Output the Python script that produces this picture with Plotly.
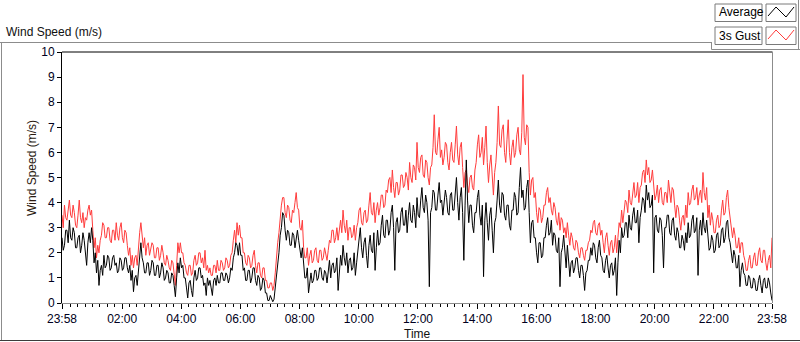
import plotly.graph_objects as go
from datetime import datetime, timedelta

# Wind speed (m/s), read every 2.5 minutes from 23:58 to 23:58 next day
average = [
    2.6, 2.1, 2.3, 2.9, 2.9, 2.4, 3.3, 2.6, 2.5, 3.0, 2.8, 2.2, 2.2, 2.6, 2.7, 2.0, 2.3, 2.8, 2.5, 2.1, 1.5, 2.4, 2.8, 2.4,
    3.0, 2.5, 1.6, 2.0, 1.2, 1.7, 0.7, 1.3, 1.5, 1.1, 1.9, 1.4, 1.5, 1.9, 1.8, 1.3, 1.4, 1.8, 1.9, 1.5, 1.6, 1.2, 1.3, 1.8,
    1.7, 1.3, 1.4, 1.8, 1.8, 1.4, 1.2, 1.5, 0.9, 1.3, 0.45, 1.0, 1.1, 0.7, 1.3, 1.7, 2.4, 1.8, 1.6, 1.2, 1.2, 1.6, 1.6, 1.1,
    1.3, 1.7, 1.6, 1.1, 1.1, 1.5, 1.5, 1.0, 1.2, 1.6, 1.4, 0.9, 1.0, 1.3, 1.2, 0.8, 0.8, 1.2, 1.1, 0.7, 0.25, 1.0, 1.6, 1.2,
    1.8, 1.4, 1.5, 1.0, 1.0, 0.6, 0.2, 0.8, 0.9, 0.5, 0.25, 1.0, 1.3, 0.9, 1.0, 1.4, 1.4, 1.0, 1.1, 0.7, 0.8, 0.3, 1.0, 0.7,
    0.9, 0.6, 0.3, 0.9, 1.0, 0.7, 1.1, 0.8, 0.8, 1.2, 1.2, 0.9, 0.9, 1.2, 1.1, 0.8, 1.0, 1.4, 1.3, 1.8, 2.0, 2.4, 2.3, 1.9,
    2.4, 1.9, 1.9, 1.3, 1.4, 0.9, 0.9, 1.3, 1.3, 0.8, 1.0, 1.4, 1.4, 0.9, 0.7, 1.1, 1.0, 0.5, 0.6, 1.0, 0.9, 0.4, 0.4, 0.1,
    0.1, 0.3, 0.2, 0.05, 0.15, 0.6, 1.2, 1.6, 2.0, 2.7, 3.0, 3.6, 3.5, 2.9, 2.5, 2.9, 2.8, 2.3, 2.3, 2.8, 2.7, 2.2, 2.6, 2.9,
    2.5, 2.0, 1.8, 2.2, 1.4, 1.0, 1.0, 1.4, 0.4, 0.9, 1.2, 0.8, 0.9, 1.3, 1.3, 0.9, 1.0, 1.4, 1.4, 1.0, 0.9, 1.3, 1.2, 0.8,
    1.3, 1.7, 1.0, 1.5, 1.6, 1.2, 1.3, 1.8, 0.5, 1.4, 1.9, 1.5, 2.3, 1.8, 1.5, 2.0, 1.2, 1.7, 1.8, 1.3, 1.4, 2.0, 1.1, 1.6,
    2.0, 2.6, 3.0, 2.2, 1.8, 2.4, 2.6, 1.9, 1.4, 2.3, 2.7, 2.1, 2.0, 2.8, 1.3, 2.2, 2.9, 2.3, 2.4, 3.1, 3.5, 2.7, 2.6, 3.3,
    3.3, 2.7, 2.9, 3.6, 3.9, 3.0, 1.3, 3.2, 3.4, 2.8, 2.9, 3.6, 3.8, 3.1, 3.1, 3.7, 2.8, 3.5, 4.0, 3.3, 3.2, 3.9, 3.6, 3.0,
    4.2, 3.5, 3.4, 4.1, 4.6, 3.8, 3.6, 4.3, 4.0, 3.3, 0.65, 3.6, 3.8, 4.5, 4.4, 3.7, 3.7, 4.3, 4.8, 4.0, 4.1, 3.5, 3.9, 4.5,
    4.2, 3.6, 3.5, 4.3, 4.4, 3.7, 3.7, 4.5, 5.0, 4.0, 3.3, 4.2, 4.6, 3.6, 1.7, 3.9, 5.7, 4.1, 3.2, 3.9, 3.9, 3.1, 2.8, 3.6,
    3.6, 4.2, 4.5, 3.5, 3.1, 3.9, 1.05, 3.3, 4.0, 3.2, 2.5, 3.5, 3.8, 2.9, 2.0, 3.2, 3.4, 4.1, 4.9, 3.9, 3.6, 4.4, 4.3, 3.5,
    3.3, 3.9, 3.9, 3.1, 2.9, 3.7, 3.7, 4.4, 4.2, 3.5, 3.6, 4.6, 5.4, 4.2, 4.5, 3.7, 3.8, 4.6, 4.9, 3.6, 2.4, 3.2, 3.3, 2.6,
    2.6, 2.0, 1.6, 2.4, 2.4, 1.8, 1.9, 2.6, 2.6, 3.1, 3.4, 2.7, 2.8, 3.3, 2.3, 2.8, 2.7, 2.1, 2.0, 2.6, 0.65, 2.0, 2.2, 2.7,
    1.9, 1.4, 2.3, 1.7, 1.05, 1.6, 1.7, 1.2, 1.4, 1.8, 1.8, 1.3, 1.0, 1.5, 1.5, 1.1, 0.5, 1.2, 1.3, 1.7, 1.7, 2.2, 1.9, 2.4,
    2.3, 1.8, 1.6, 2.2, 2.5, 1.9, 1.8, 1.3, 1.2, 1.7, 1.9, 1.4, 1.0, 1.5, 1.6, 1.1, 1.3, 1.8, 0.3, 1.6, 2.5, 2.0, 3.0, 2.6,
    2.7, 3.2, 3.2, 2.6, 3.5, 3.0, 2.9, 3.5, 3.8, 3.2, 3.2, 3.7, 2.4, 3.4, 3.7, 4.2, 4.1, 3.6, 4.7, 4.1, 4.4, 3.8, 3.9, 4.3,
    1.2, 3.4, 3.5, 2.9, 2.8, 3.4, 3.3, 2.7, 1.4, 3.0, 3.0, 3.5, 3.5, 2.8, 2.7, 3.3, 3.4, 2.7, 2.5, 3.0, 2.8, 2.2, 2.2, 2.7,
    2.5, 2.1, 2.8, 2.4, 3.2, 2.6, 2.7, 3.3, 3.5, 2.8, 2.9, 3.4, 1.1, 2.9, 3.3, 2.7, 3.6, 3.0, 2.8, 3.3, 2.6, 2.1, 2.2, 2.7,
    2.5, 2.0, 2.1, 2.7, 2.8, 2.2, 2.3, 2.9, 3.0, 2.4, 2.6, 3.2, 3.3, 2.6, 2.4, 2.0, 1.6, 2.1, 1.9, 1.4, 1.4, 1.9, 0.65, 1.3,
    1.6, 1.2, 1.1, 0.7, 0.7, 1.1, 1.0, 0.6, 0.6, 1.0, 0.9, 0.5, 0.5, 0.9, 1.1, 0.7, 0.4, 0.9, 1.0, 0.6, 0.6, 1.0, 0.8, 0.4,
    0.1,
]

gust = [
    3.5, 3.0, 3.9, 3.4, 3.3, 3.7, 4.1, 3.5, 3.4, 3.9, 3.6, 3.1, 3.0, 3.5, 4.1, 3.4, 3.2, 3.6, 3.0, 3.4, 3.3, 3.7, 3.9, 3.5,
    3.7, 2.9, 2.2, 2.6, 1.8, 2.3, 2.0, 2.5, 2.7, 3.2, 3.1, 2.6, 2.6, 3.0, 3.0, 2.5, 2.4, 2.9, 2.9, 2.5, 3.2, 2.7, 2.5, 3.0,
    3.2, 2.6, 2.4, 2.9, 2.8, 2.3, 1.9, 2.2, 1.5, 1.9, 1.4, 1.8, 1.9, 1.5, 2.3, 2.8, 3.2, 2.6, 2.2, 2.6, 1.9, 2.3, 2.4, 1.9,
    2.1, 2.4, 2.3, 1.8, 1.8, 2.2, 2.2, 1.7, 1.9, 2.3, 2.0, 1.6, 1.5, 1.9, 1.7, 1.4, 1.3, 1.7, 1.6, 1.2, 0.7, 1.5, 2.4, 2.0,
    2.4, 2.0, 2.0, 1.6, 1.5, 1.2, 1.1, 1.5, 1.5, 1.1, 1.2, 1.7, 1.9, 1.5, 1.6, 2.0, 2.0, 1.6, 1.8, 1.4, 2.1, 1.3, 1.5, 1.2,
    1.4, 1.1, 1.1, 1.5, 1.5, 1.2, 1.7, 1.3, 1.3, 1.7, 1.6, 1.3, 1.4, 1.8, 1.7, 1.4, 1.5, 1.9, 2.0, 2.5, 2.9, 2.4, 3.2, 2.7,
    3.1, 2.6, 2.6, 2.0, 2.0, 1.6, 1.5, 1.9, 1.8, 1.4, 1.5, 1.9, 2.1, 1.5, 1.2, 1.6, 1.6, 1.1, 1.0, 1.4, 1.4, 0.9, 0.9, 0.6,
    0.6, 0.8, 0.8, 0.5, 0.7, 1.2, 1.9, 2.4, 2.8, 3.5, 3.9, 4.2, 4.2, 3.6, 3.4, 3.9, 3.8, 3.3, 3.2, 3.7, 3.6, 4.0, 4.4, 3.8,
    3.7, 3.0, 2.9, 3.3, 2.2, 1.8, 1.8, 2.2, 1.5, 1.9, 2.1, 1.6, 1.7, 2.1, 2.2, 1.7, 1.6, 2.1, 2.1, 1.7, 1.8, 2.2, 2.0, 1.7,
    2.1, 2.5, 2.4, 2.9, 2.9, 2.4, 2.6, 3.0, 2.5, 2.9, 3.3, 2.8, 3.7, 3.1, 2.8, 3.3, 2.5, 3.0, 3.0, 2.6, 2.7, 3.1, 2.5, 3.0,
    3.2, 3.7, 3.8, 3.2, 3.1, 3.6, 3.7, 3.2, 3.3, 3.9, 4.4, 3.6, 3.5, 4.0, 3.2, 3.7, 4.0, 3.5, 3.8, 4.3, 4.3, 3.8, 3.9, 4.5,
    4.4, 4.9, 5.0, 4.4, 5.3, 4.6, 4.2, 4.8, 4.8, 4.3, 4.5, 5.1, 5.1, 4.6, 4.7, 5.2, 5.0, 4.5, 5.6, 5.0, 4.8, 5.5, 5.4, 4.9,
    6.4, 5.4, 5.2, 5.8, 5.9, 5.1, 5.0, 5.7, 5.6, 5.0, 4.7, 5.4, 5.5, 6.2, 7.5, 6.0, 5.9, 6.5, 7.0, 5.8, 6.1, 5.5, 5.8, 6.4,
    6.3, 5.6, 5.3, 6.0, 6.4, 5.7, 5.6, 6.3, 7.05, 5.9, 5.5, 6.2, 6.4, 5.4, 4.6, 5.2, 5.3, 4.7, 4.4, 5.0, 5.1, 4.6, 4.5, 5.3,
    5.6, 6.3, 6.7, 5.8, 6.0, 6.6, 5.5, 6.2, 7.05, 5.6, 4.8, 5.5, 5.9, 5.1, 4.3, 5.2, 5.6, 6.4, 7.85, 6.3, 6.2, 6.9, 7.1, 6.0,
    5.6, 6.5, 7.3, 6.0, 5.5, 6.2, 6.5, 5.8, 6.0, 6.7, 7.0, 6.1, 5.9, 6.8, 9.1, 6.6, 6.3, 7.1, 7.0, 5.2, 4.3, 4.9, 5.0, 4.2,
    4.4, 3.6, 3.2, 3.8, 3.7, 3.2, 3.4, 3.9, 3.9, 4.4, 4.6, 4.0, 4.2, 3.7, 3.5, 4.0, 3.8, 3.3, 3.1, 3.6, 2.9, 3.4, 3.3, 2.8,
    3.0, 2.6, 3.2, 2.7, 2.3, 2.8, 2.6, 2.2, 2.1, 2.5, 2.4, 2.0, 1.8, 2.2, 2.2, 1.9, 1.7, 2.1, 2.1, 2.4, 2.5, 2.9, 2.8, 3.2,
    3.3, 2.8, 2.7, 3.1, 3.2, 2.7, 2.9, 2.4, 2.0, 2.6, 2.8, 2.3, 1.9, 2.4, 2.5, 2.0, 2.2, 2.7, 2.0, 2.6, 3.2, 3.0, 3.7, 3.2,
    3.6, 4.1, 4.0, 3.6, 4.5, 4.0, 3.9, 4.4, 4.8, 4.2, 4.3, 4.8, 4.0, 4.6, 4.7, 5.2, 5.3, 4.8, 5.7, 5.1, 5.4, 4.8, 4.9, 5.3,
    4.6, 4.1, 4.3, 4.7, 4.0, 4.5, 4.6, 4.0, 3.9, 4.4, 4.4, 4.0, 4.9, 4.3, 4.0, 4.6, 4.5, 3.9, 3.4, 3.9, 3.8, 3.3, 2.9, 3.4,
    3.5, 3.1, 3.9, 3.4, 4.4, 3.9, 4.0, 4.5, 4.7, 4.1, 4.2, 4.6, 3.9, 4.3, 4.5, 4.0, 5.2, 4.4, 4.1, 4.6, 3.4, 3.9, 3.1, 3.6,
    3.3, 2.8, 2.8, 3.3, 3.5, 3.0, 3.1, 3.7, 4.1, 3.5, 3.6, 4.2, 4.5, 3.8, 3.4, 2.9, 2.6, 3.0, 2.7, 2.2, 2.2, 2.6, 2.0, 2.4,
    2.4, 1.9, 1.7, 1.3, 1.3, 1.7, 1.9, 1.4, 1.4, 1.8, 2.0, 1.5, 1.5, 2.0, 2.2, 1.7, 1.6, 2.1, 2.1, 1.6, 1.3, 1.7, 1.9, 1.4,
    2.6,
]

series_names = ["Average", "3s Gust"]
x_tick_labels = ["23:58", "02:00", "04:00", "06:00", "08:00", "10:00", "12:00",
                 "14:00", "16:00", "18:00", "20:00", "22:00", "23:58"]
y_ticks = [0, 1, 2, 3, 4, 5, 6, 7, 8, 9, 10]

start = datetime(2015, 6, 1, 23, 58)
end = start + timedelta(minutes=1440)
step = 1440 / (len(average) - 1)
times = [start + timedelta(minutes=step * i) for i in range(len(average))]

tick_vals = [start] + [datetime(2015, 6, 2, h) for h in range(2, 23, 2)] + [end]
minor_vals = []
t = datetime(2015, 6, 2, 0, 0)
while t < end:
    if not (t.minute == 0 and t.hour % 2 == 0):
        minor_vals.append(t)
    t += timedelta(minutes=15)

FONT = "Liberation Sans"
RED = "#ff3c3c"

# pixel -> paper helpers (plot area: x 62..772, y 52..303)
L, R, T, B = 62, 772, 52, 303
def fx(x):
    return (x - L) / (R - L)
def fy(y):
    return (B - y) / (B - T)

fig = go.Figure()
fig.add_trace(go.Scatter(x=times, y=gust, mode="lines", name=series_names[1],
                         line=dict(color=RED, width=1), showlegend=False))
fig.add_trace(go.Scatter(x=times, y=average, mode="lines", name=series_names[0],
                         line=dict(color="#000000", width=1), showlegend=False))

shapes = []
def line(x0, y0, x1, y1, color, width=1):
    shapes.append(dict(type="line", xref="paper", yref="paper",
                       x0=fx(x0), y0=fy(y0), x1=fx(x1), y1=fy(y1),
                       line=dict(color=color, width=width)))

# outer panel frame
line(0, 42.5, 711, 42.5, "#8c8c8c")
line(1.5, 42.5, 1.5, 341, "#8c8c8c")
line(0, 340.5, 800, 340.5, "#3c3c3c")
# legend panel frame
line(711.5, 42, 711.5, 49.5, "#8c8c8c")
line(711.5, 49.5, 800, 49.5, "#8c8c8c")
line(798.5, 0, 798.5, 49.5, "#8c8c8c")
# plot area top/right border
line(62, 52, 772.5, 52, "#000000")
line(772.5, 52, 772.5, 303, "#8c8c8c")

# legend boxes
for (yt, yb) in [(4, 21.5), (27, 44.5)]:
    shapes.append(dict(type="rect", xref="paper", yref="paper",
                       x0=fx(715), x1=fx(762), y0=fy(yb), y1=fy(yt),
                       line=dict(color="#7a7a7a", width=1), fillcolor="white"))
    shapes.append(dict(type="rect", xref="paper", yref="paper",
                       x0=fx(766), x1=fx(796), y0=fy(yb), y1=fy(yt),
                       line=dict(color="#7a7a7a", width=1), fillcolor="white"))

def zigzag(y_off, color):
    pts = [(768, 16), (776, 7), (786, 17), (794, 7)]
    p = "M " + " L ".join(f"{fx(x)},{fy(y + y_off)}" for x, y in pts)
    shapes.append(dict(type="path", xref="paper", yref="paper", path=p,
                       line=dict(color=color, width=1)))
zigzag(0, "#000000")
zigzag(23, RED)

annotations = [
    dict(text="Wind Speed (m/s)", xref="paper", yref="paper", x=fx(4), y=fy(32),
         xanchor="left", yanchor="middle", showarrow=False,
         font=dict(family=FONT, size=12, color="#101010")),
    dict(text=series_names[0], xref="paper", yref="paper", x=fx(717), y=fy(12.5),
         xanchor="left", yanchor="middle", showarrow=False,
         font=dict(family=FONT, size=12, color="#000000")),
    dict(text=series_names[1], xref="paper", yref="paper", x=fx(717), y=fy(35.5),
         xanchor="left", yanchor="middle", showarrow=False,
         font=dict(family=FONT, size=12, color="#000000")),
    dict(text="Time", xref="paper", yref="paper", x=fx(417), y=fy(334),
         xanchor="center", yanchor="middle", showarrow=False,
         font=dict(family=FONT, size=12, color="#101010")),
    dict(text="Wind Speed (m/s)", xref="paper", yref="paper", x=fx(32), y=fy(168),
         xanchor="center", yanchor="middle", showarrow=False, textangle=-90,
         font=dict(family=FONT, size=12, color="#2a1a10")),
]

fig.update_layout(
    width=800, height=342,
    margin=dict(l=L, r=800 - R, t=T, b=342 - B, pad=0),
    paper_bgcolor="white", plot_bgcolor="white",
    showlegend=False,
    shapes=shapes, annotations=annotations,
    font=dict(family=FONT, size=12, color="#000000"),
)
fig.update_xaxes(
    type="date", range=[start, end],
    tickmode="array", tickvals=tick_vals, ticktext=x_tick_labels,
    ticks="outside", ticklen=5, tickwidth=1, tickcolor="#000000",
    showline=True, linecolor="#8c8c8c", linewidth=1,
    showgrid=False, zeroline=False,
    tickfont=dict(family=FONT, size=12, color="#000020"),
    minor=dict(tickmode="array", tickvals=minor_vals, ticks="outside",
               ticklen=3, tickwidth=1, tickcolor="#000000", showgrid=False),
)
fig.update_yaxes(
    range=[0, 10], tickmode="array", tickvals=y_ticks,
    ticks="outside", ticklen=4, tickwidth=1, tickcolor="#000000",
    showline=True, linecolor="#000000", linewidth=1,
    showgrid=False, zeroline=False,
    tickfont=dict(family=FONT, size=12, color="#000020"),
)

fig.write_html("out.html", config={"displayModeBar": False},
               post_script="document.body.style.margin='0px';document.body.style.overflow='hidden';")
